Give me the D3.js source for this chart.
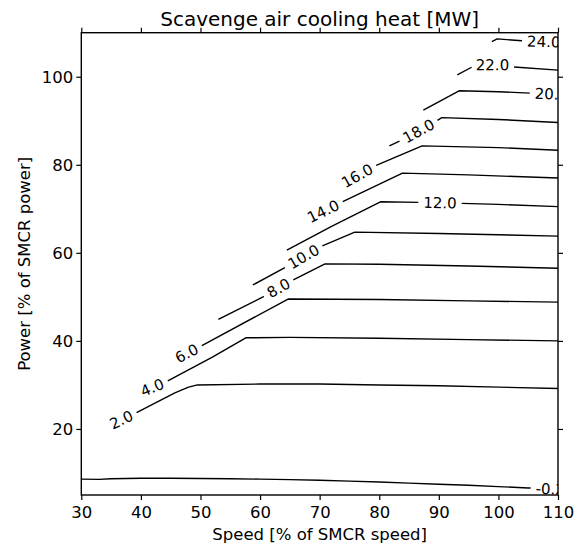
<!DOCTYPE html>
<html>
<head>
<meta charset="utf-8">
<script src="https://cdn.jsdelivr.net/npm/d3@7"></script>
<style>
  body { margin: 0; background: #fff; }
  svg { display: block; }
  text { font-family: "DejaVu Sans", sans-serif; fill: #000; }
</style>
</head>
<body>
<svg id="chart" width="584" height="546"></svg>
<script>
// Axis ticks
const xTicks = [30, 40, 50, 60, 70, 80, 90, 100, 110];
const yTicks = [20, 40, 60, 80, 100];

// Contour levels of scavenge air cooling heat [MW]
const levels = [-0.2, 2, 4, 6, 8, 10, 12, 14, 16, 18, 20, 22, 24];

// Speed [%] at which each level's inline label sits
const labelSpeeds = [108.7, 36.7, 41.9, 47.7, 63.1, 67.3, 90.2, 70.6, 76.3, 86.6, 108.9, 99.0, 107.6];

// Iso-lines as [speed %, power %] vertices
const isoM02 = [[30, 8.6], [33, 8.55], [35, 8.7], [40, 8.8], [45, 8.8], [50, 8.75], [55, 8.7], [60, 8.6],
                [65, 8.5], [70, 8.35], [75, 8.15], [80, 7.95], [85, 7.7], [90, 7.45], [95, 7.2],
                [100, 6.9], [105, 6.6], [110, 6.3], [113, 6.1]];
const iso2  = [[34.6, 20.8], [38.8, 23.4], [45.7, 28.2], [48, 29.5], [49.5, 30.0], [60, 30.2], [70, 30.2],
               [80, 30.0], [90, 29.8], [100, 29.5], [110, 29.2]];
const iso4  = [[39.3, 28.0], [44.2, 30.7], [52, 36.3], [57.6, 40.7], [65, 40.8], [80, 40.6], [95, 40.3], [110, 40.0]];
const iso6  = [[45.2, 35.5], [49.9, 38.7], [64.7, 49.5], [80, 49.4], [95, 49.1], [110, 48.8]];
const iso8  = [[53.0, 44.9], [60.5, 50.0], [65.3, 53.7], [70.9, 57.5], [80, 57.4], [95, 57.0], [110, 56.5]];
const iso10 = [[58.8, 52.7], [64.5, 56.9], [70.1, 61.4], [75.9, 64.7], [90, 64.4], [110, 63.8]];
const iso12 = [[64.5, 60.6], [72, 66.0], [80.2, 71.6], [90, 71.4], [100, 71.0], [110, 70.5]];
const iso14 = [[67.9, 67.7], [73.4, 71.3], [83.9, 78.1], [95, 77.7], [110, 77.0]];
const iso16 = [[73.7, 75.5], [79.0, 79.6], [87.2, 84.3], [100, 83.9], [110, 83.3]];
const iso18 = [[81.7, 84.3], [83.8, 85.6], [89.4, 89.8], [90.5, 90.7], [100, 90.3], [110, 89.6]];
const iso20 = [[87.4, 92.4], [93.4, 96.8], [100, 96.6], [110, 96.0], [113, 95.8]];
const iso22 = [[93.1, 100.4], [95.7, 102.3], [97.0, 103.0], [101.7, 102.3], [110, 101.5]];
const iso24 = [[98.9, 108.0], [99.8, 108.6], [104.5, 108.1], [110, 107.9], [113, 107.8]];

const isoLines = [isoM02, iso2, iso4, iso6, iso8, iso10, iso12, iso14, iso16, iso18, iso20, iso22, iso24];

// ---- layout ----
const svg = d3.select("#chart");
const W = 584, H = 546;
const margin = { left: 81.3, right: W - 558, top: 32.7, bottom: H - 495 };
const x = d3.scaleLinear().domain([30, 110]).range([margin.left, W - margin.right]);
const y = d3.scaleLinear().domain([5, 110]).range([H - margin.bottom, margin.top]);

const fontSize = 16.5;
const tickLen = 5;

svg.append("defs").append("clipPath").attr("id", "plotClip")
  .append("rect")
  .attr("x", x.range()[0]).attr("y", y.range()[1])
  .attr("width", x.range()[1] - x.range()[0])
  .attr("height", y.range()[0] - y.range()[1]);

// ---- iso-lines with inline labels ----
const plot = svg.append("g").attr("clip-path", "url(#plotClip)");
const fmt = d => d.toFixed(1);   // plain hyphen for negatives
const labelSize = 15;
const inlineSpacing = 5;

function polyInfo(px) {
  const cum = [0];
  for (let i = 1; i < px.length; i++) {
    cum.push(cum[i - 1] + Math.hypot(px[i][0] - px[i - 1][0], px[i][1] - px[i - 1][1]));
  }
  return cum;
}
function pointAt(px, cum, s) {
  const L = cum[cum.length - 1];
  s = Math.max(0, Math.min(L, s));
  for (let i = 1; i < px.length; i++) {
    if (s <= cum[i] || i === px.length - 1) {
      const seg = cum[i] - cum[i - 1] || 1;
      const t = (s - cum[i - 1]) / seg;
      return [px[i - 1][0] + t * (px[i][0] - px[i - 1][0]), px[i - 1][1] + t * (px[i][1] - px[i - 1][1])];
    }
  }
  return px[px.length - 1];
}
function arcAtX(px, cum, xv) {
  for (let i = 1; i < px.length; i++) {
    const a = px[i - 1][0], b = px[i][0];
    if ((xv - a) * (xv - b) <= 0 && a !== b) {
      const t = (xv - a) / (b - a);
      return cum[i - 1] + t * (cum[i] - cum[i - 1]);
    }
  }
  return xv < px[0][0] ? 0 : cum[cum.length - 1];
}
function subLine(px, cum, s1, s2) {
  const out = [pointAt(px, cum, s1)];
  for (let i = 0; i < px.length; i++) {
    if (cum[i] > s1 && cum[i] < s2) out.push(px[i]);
  }
  out.push(pointAt(px, cum, s2));
  return out;
}

const line = d3.line();

isoLines.forEach((pts, i) => {
  const px = pts.map(d => [x(d[0]), y(d[1])]);
  const cum = polyInfo(px);
  const L = cum[cum.length - 1];

  const label = plot.append("text")
    .attr("font-size", labelSize)
    .attr("text-anchor", "middle")
    .attr("dy", "0.36em")
    .text(fmt(levels[i]));
  const w = label.node().getComputedTextLength();
  const hw = w / 2 + inlineSpacing;

  const s0 = arcAtX(px, cum, x(labelSpeeds[i]));
  const c = pointAt(px, cum, s0);
  const a = pointAt(px, cum, s0 - hw), b = pointAt(px, cum, s0 + hw);
  let ang = Math.atan2(b[1] - a[1], b[0] - a[0]) * 180 / Math.PI;
  if (ang > 90) ang -= 180;
  if (ang < -90) ang += 180;
  label.attr("transform", `translate(${c[0]},${c[1]}) rotate(${ang})`);

  const pieces = [];
  if (s0 - hw > 0) pieces.push(subLine(px, cum, 0, s0 - hw));
  if (s0 + hw < L) pieces.push(subLine(px, cum, s0 + hw, L));
  pieces.forEach(p => {
    plot.append("path")
      .attr("d", line(p))
      .attr("fill", "none")
      .attr("stroke", "#000")
      .attr("stroke-width", 1.4)
      .attr("stroke-linejoin", "round");
  });
});

// ---- axes ----
function styleAxis(g) {
  g.select(".domain").remove();
  g.selectAll(".tick line").attr("stroke", "#000").attr("stroke-width", 1.2);
  g.selectAll("text").attr("font-size", fontSize).attr("font-family", "DejaVu Sans, sans-serif").attr("fill", "#000");
}

svg.append("g").attr("transform", `translate(0,${y.range()[0]})`)
  .call(d3.axisBottom(x).tickValues(xTicks).tickSize(tickLen).tickPadding(6).tickFormat(d3.format("d")))
  .call(styleAxis);
svg.append("g").attr("transform", `translate(0,${y.range()[1]})`)
  .call(d3.axisTop(x).tickValues(xTicks).tickSize(tickLen).tickFormat(""))
  .call(styleAxis);
svg.append("g").attr("transform", `translate(${x.range()[0]},0)`)
  .call(d3.axisLeft(y).tickValues(yTicks).tickSize(tickLen).tickPadding(3).tickFormat(d3.format("d")))
  .call(styleAxis);
svg.append("g").attr("transform", `translate(${x.range()[1]},0)`)
  .call(d3.axisRight(y).tickValues(yTicks).tickSize(tickLen).tickFormat(""))
  .call(styleAxis);

// frame
svg.append("rect")
  .attr("x", x.range()[0]).attr("y", y.range()[1])
  .attr("width", x.range()[1] - x.range()[0])
  .attr("height", y.range()[0] - y.range()[1])
  .attr("fill", "none").attr("stroke", "#000").attr("stroke-width", 1.4);

// ---- titles ----
const cx = (x.range()[0] + x.range()[1]) / 2;
const cy = (y.range()[0] + y.range()[1]) / 2;

svg.append("text")
  .attr("x", cx).attr("y", 26)
  .attr("text-anchor", "middle")
  .attr("font-size", 20)
  .text("Scavenge air cooling heat [MW]");

svg.append("text")
  .attr("x", cx).attr("y", 540)
  .attr("text-anchor", "middle")
  .attr("font-size", fontSize)
  .text("Speed [% of SMCR speed]");

svg.append("text")
  .attr("transform", `translate(30,${cy}) rotate(-90)`)
  .attr("text-anchor", "middle")
  .attr("font-size", fontSize)
  .text("Power [% of SMCR power]");
</script>
</body>
</html>
